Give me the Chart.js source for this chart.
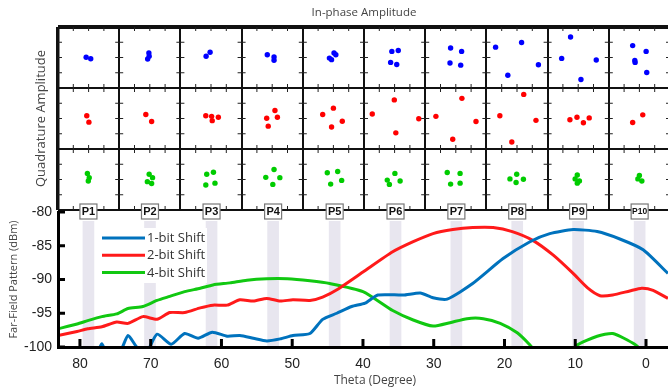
<!DOCTYPE html>
<html>
<head>
<meta charset="utf-8">
<script src="https://cdn.jsdelivr.net/npm/chart.js@4"></script>
<style>
  html, body { margin: 0; padding: 0; background: #fff; overflow: hidden; }
  #wrap { position: relative; width: 668px; height: 392px; overflow: hidden; }
  #wrap canvas { position: absolute; left: 0; top: 0; }
</style>
</head>
<body>
<div id="wrap">
  <canvas id="constChart" width="700" height="214"></canvas>
  <canvas id="patternChart" width="700" height="392"></canvas>
</div>
<script>
// ---- constellation grid (top) ----
// I/Q cluster centres per cell, normalised to [-1, 1] inside each cell
const cellLabels = ['P1', 'P2', 'P3', 'P4', 'P5', 'P6', 'P7', 'P8', 'P9', 'P10'];
const rowNames = ['1-bit', '2-bit', '4-bit'];

const iq1bit = [
  [[-0.08, 0.01], [0.07, -0.04]],
  [[-0.03, 0.15], [-0.07, -0.05], [-0.02, 0.04]],
  [[-0.03, 0.17], [-0.16, 0.04]],
  [[-0.16, 0.09], [0.06, 0.02], [0.06, -0.09]],
  [[-0.13, -0.02], [-0.06, -0.07], [0.02, 0.15], [0.08, 0.09]],
  [[-0.09, 0.2], [0.12, 0.23], [-0.13, -0.16], [0.07, -0.23]],
  [[-0.17, 0.31], [0.19, 0.2], [-0.19, -0.18], [0.16, -0.25]],
  [[-0.7, 0.34], [0.15, 0.49], [0.7, -0.24], [-0.3, -0.58]],
  [[-0.25, 0.67], [-0.54, -0.03], [0.59, -0.08], [0.09, -0.72]],
  [[-0.22, 0.39], [0.22, 0.2], [-0.15, -0.1], [-0.14, -0.16], [0.24, -0.49]]
];
const iq2bit = [
  [[-0.06, 0.09], [0.01, -0.12]],
  [[-0.13, 0.13], [0.06, -0.1]],
  [[-0.17, 0.09], [0.02, 0.07], [0.24, 0.04], [0.04, -0.07]],
  [[0.09, 0.26], [0.17, 0.04], [-0.18, 0.01], [-0.13, -0.25]],
  [[-0.35, 0.13], [0, 0.34], [0.29, -0.09], [-0.06, -0.28]],
  [[-0.73, 0.15], [-0.01, 0.61], [0.79, -0.01], [0.04, -0.47]],
  [[-0.65, 0.07], [0.2, 0.66], [0.66, -0.1], [-0.1, -0.68]],
  [[-0.56, 0.09], [0.22, 0.79], [0.62, -0.06], [-0.17, -0.77]],
  [[-0.27, -0.04], [-0.04, 0.04], [0.17, -0.14], [0.36, 0.02]],
  [[-0.22, -0.13], [0.11, 0.12]]
];
const iq4bit = [
  [[-0.04, 0.2], [0.02, 0.06], [-0.01, -0.05]],
  [[-0.02, 0.17], [0.09, 0.06], [-0.08, -0.07], [0.06, -0.13]],
  [[-0.14, 0.17], [0.08, 0.24], [-0.17, -0.18], [0.13, -0.12]],
  [[0.06, 0.33], [-0.21, 0.07], [0.25, 0.06], [0.02, -0.16]],
  [[-0.2, 0.22], [0.14, 0.26], [0.27, -0.03], [-0.09, -0.15]],
  [[0.01, 0.2], [-0.24, -0.02], [-0.17, -0.16], [0.18, -0.05]],
  [[-0.28, 0.23], [0.14, 0.2], [-0.17, -0.15], [0.14, -0.12]],
  [[-0.01, 0.17], [-0.23, 0.02], [-0.03, -0.1], [0.21, 0.01]],
  [[-0.03, 0.15], [-0.1, 0.02], [0.04, -0.05], [-0.03, -0.12]],
  [[0, 0.13], [-0.05, 0.02], [0.08, -0.05]]
];
const iqRows = [iq1bit, iq2bit, iq4bit];
const cellEdges = [0, 1, 2, 3, 4, 5, 6, 7, 8, 9, 10];
const rowEdges = [0, 1, 2, 3];
const cellTickFractions = [0.25, 0.5, 0.75];

// ---- far-field pattern (bottom) ----
const thetaTicks = [80, 70, 60, 50, 40, 30, 20, 10, 0];
const powerTicks = [-100, -95, -90, -85, -80];
const seriesNames = ['1-bit Shift', '2-bit Shift', '4-bit Shift'];

const theta1 = [83.3, 77.6, 76.9, 76.3, 74.4, 73.2, 71.9, 70.6, 69.1, 67.1, 65.2, 63.3, 61.3, 59.2, 57.4, 55.5, 53.6, 51.7, 49.9, 47.5, 45.7, 43.7, 41.6, 39.7, 37.9, 34.3, 31.9, 30.1, 28.1, 24.5, 20.2, 16.4, 13.6, 10.3, 6.9, 3.7, 0.4, -3.1];
const power1 = [-103, -100.8, -99.5, -100.8, -100.8, -98.3, -100.1, -100.8, -98.1, -99.6, -98.0, -98.7, -97.8, -98.4, -98.3, -98.7, -99.1, -98.8, -98.3, -98.0, -95.9, -95.0, -94.0, -93.5, -92.3, -92.3, -92.0, -92.7, -92.9, -90.6, -86.9, -84.4, -83.2, -82.6, -82.9, -84.0, -85.6, -89.1];

const theta2 = [83.1, 80.4, 78.9, 76.9, 74.8, 73.2, 71.1, 69.1, 67.3, 65.2, 63.0, 61.2, 59.2, 57.4, 55.5, 53.6, 51.7, 49.9, 47.5, 45.7, 43.5, 40.0, 35.8, 32.9, 30.1, 27.3, 24.5, 21.6, 18.9, 16.0, 13.1, 10.3, 8.3, 6.5, 4.7, 2.3, 0.6, -1.0, -3.1];
const power2 = [-98.3, -97.7, -97.3, -97.0, -96.3, -96.5, -95.5, -95.9, -94.9, -94.9, -94.2, -93.8, -93.8, -93.0, -93.2, -92.8, -93.2, -93.0, -93.1, -92.6, -91.4, -88.9, -85.9, -84.4, -83.2, -82.6, -82.3, -82.3, -82.9, -84.2, -86.4, -89.1, -91.2, -92.4, -92.3, -91.7, -91.3, -91.6, -92.8];

const theta3 = [83.1, 80.4, 78.9, 76.9, 74.8, 73.2, 71.1, 69.1, 67.3, 65.2, 63.0, 61.2, 58.8, 56.4, 53.6, 50.7, 47.5, 44.7, 40.0, 35.8, 32.9, 30.1, 27.7, 25.3, 23.0, 20.6, 18.2, 16.4, 14.0, 12.0, 9.8, 6.9, 4.7, 1.6, -1.0];
const power3 = [-97.3, -96.6, -96.1, -95.5, -95.1, -94.3, -94.0, -93.1, -92.5, -91.8, -91.3, -90.8, -90.5, -90.1, -89.9, -89.9, -90.2, -90.6, -91.8, -94.6, -96.0, -96.9, -96.4, -95.8, -95.8, -96.5, -97.9, -99.7, -102.5, -102.5, -99.75, -98.4, -98.0, -99.6, -102];

// measurement angles P1..P10 (shaded strips)
const markerTheta = [78.8, 70.1, 61.4, 52.7, 44.0, 35.4, 26.8, 18.2, 9.6, 0.9];
const markerTop = -81.4;

const lineColors = ['#0072bd', '#ff1a1a', '#11c811'];
const dotColors = ['#0000ff', '#ff0000', '#00cc00'];

Chart.defaults.font.family = "'Open Sans', sans-serif";
Chart.defaults.animation = false;

const toPoints = (xs, ys) => xs.map((x, i) => ({ x: x, y: ys[i] }));

// small inward ticks on every cell box
const cellTicks = {
  id: 'cellTicks',
  afterDraw(chart) {
    const { ctx, scales: { x, y } } = chart;
    const len = 4;
    ctx.save();
    ctx.strokeStyle = '#222';
    ctx.lineWidth = 1;
    ctx.beginPath();
    for (let c = 0; c < cellEdges.length - 1; c++) {
      for (let r = 0; r < rowEdges.length - 1; r++) {
        const x0 = x.getPixelForValue(cellEdges[c]), x1 = x.getPixelForValue(cellEdges[c + 1]);
        const y0 = y.getPixelForValue(rowEdges[r + 1]), y1 = y.getPixelForValue(rowEdges[r]);
        cellTickFractions.forEach(f => {
          const xx = x0 + f * (x1 - x0), yy = y0 + f * (y1 - y0);
          ctx.moveTo(xx, y0); ctx.lineTo(xx, y0 + len);
          ctx.moveTo(xx, y1); ctx.lineTo(xx, y1 - len);
          ctx.moveTo(x0, yy); ctx.lineTo(x0 + len, yy);
          ctx.moveTo(x1, yy); ctx.lineTo(x1 - len, yy);
        });
      }
    }
    ctx.stroke();
    ctx.restore();
  }
};

new Chart(document.getElementById('constChart'), {
  type: 'scatter',
  data: {
    datasets: iqRows.map((rows, r) => ({
      label: rowNames[r],
      data: rows.flatMap((pts, c) => pts.map(([i, q]) => ({
        x: cellEdges[c] + 0.5 + i / 2,
        y: rowEdges[2 - r] + 0.5 + q / 2
      }))),
      backgroundColor: dotColors[r],
      borderWidth: 0,
      pointRadius: 2.7
    }))
  },
  options: {
    responsive: false,
    events: [],
    layout: { padding: { right: 30, bottom: 2 } },
    plugins: { legend: { display: false }, tooltip: { enabled: false } },
    scales: {
      x: {
        type: 'linear', position: 'top', min: 0, max: 10,
        afterBuildTicks: s => { s.ticks = cellEdges.map(v => ({ value: v })); },
        afterFit: s => { s.height = 27; },
        ticks: { display: false },
        border: { display: false },
        grid: {
          drawTicks: false, color: '#111',
          lineWidth: ctx => (ctx.tick && ctx.tick.value === 0 ? 3.5 : 2)
        },
        title: {
          display: true, text: 'In-phase Amplitude', color: '#444',
          font: { size: 11.5 }, padding: { top: 6, bottom: 0 }
        }
      },
      y: {
        type: 'linear', min: 0, max: 3,
        afterBuildTicks: s => { s.ticks = rowEdges.map(v => ({ value: v })); },
        afterFit: s => { s.width = 58; },
        ticks: { display: false },
        border: { display: false },
        grid: {
          drawTicks: false, color: '#111',
          lineWidth: ctx => (ctx.tick && ctx.tick.value === 3 ? 4 : 2)
        },
        title: {
          display: true, text: 'Quadrature Amplitude', color: '#444',
          font: { size: 13 }, padding: { top: 33, bottom: 0 }
        }
      }
    }
  },
  plugins: [cellTicks]
});

// inward tick marks, P boxes and legend for the pattern plot
const patternDecor = {
  id: 'patternDecor',
  afterDatasetsDraw(chart) {
    const { ctx, chartArea } = chart;
    // legend
    const lx = chartArea.left + 40, ly = chartArea.top + 16;
    ctx.save();
    ctx.fillStyle = '#fff';
    ctx.fillRect(lx, ly, 109, 55);
    ctx.font = "13px 'Open Sans'";
    ctx.textBaseline = 'middle';
    chart.data.datasets.filter(d => d.type !== 'bar').forEach((d, i) => {
      const yy = ly + 10 + i * 17.2;
      ctx.strokeStyle = d.borderColor;
      ctx.lineWidth = 3;
      ctx.beginPath();
      ctx.moveTo(lx + 4, yy); ctx.lineTo(lx + 47, yy);
      ctx.stroke();
      ctx.fillStyle = '#333';
      ctx.fillText(d.label, lx + 49, yy + 0.5);
    });
    ctx.restore();
  },
  afterDraw(chart) {
    const { ctx, chartArea, scales: { x, y } } = chart;
    ctx.save();
    ctx.strokeStyle = '#000';
    ctx.lineWidth = 3;
    ctx.beginPath();
    thetaTicks.forEach(v => {
      const px = x.getPixelForValue(v);
      ctx.moveTo(px, chartArea.bottom); ctx.lineTo(px, chartArea.bottom - 8);
    });
    powerTicks.forEach(v => {
      const py = y.getPixelForValue(v);
      ctx.moveTo(chartArea.left, py); ctx.lineTo(chartArea.left + 7, py);
    });
    ctx.stroke();
    // P labels
    markerTheta.forEach((t, i) => {
      const px = x.getPixelForValue(t);
      const py = chartArea.top - 0.5;
      ctx.fillStyle = '#fff';
      ctx.strokeStyle = '#777';
      ctx.lineWidth = 1.2;
      ctx.fillRect(px - 8.5, py - 7.5, 17, 15);
      ctx.strokeRect(px - 8.5, py - 7.5, 17, 15);
      ctx.fillStyle = '#111';
      ctx.font = (cellLabels[i].length > 2 ? 'bold 8.5px' : 'bold 11px') + " 'Liberation Sans'";
      ctx.textAlign = 'center';
      ctx.textBaseline = 'middle';
      ctx.fillText(cellLabels[i], px, py + 0.5);
    });
    ctx.restore();
  }
};

const seriesTheta = [theta1, theta2, theta3];
const seriesPower = [power1, power2, power3];

new Chart(document.getElementById('patternChart'), {
  type: 'line',
  data: {
    datasets: seriesNames.map((name, i) => ({
      label: name,
      data: toPoints(seriesTheta[i], seriesPower[i]),
      borderColor: lineColors[i],
      borderWidth: 3,
      pointRadius: 0,
      tension: 0.2,
      fill: false,
      order: i
    })).concat([{
      type: 'bar',
      label: 'measured angles',
      data: markerTheta.map(t => ({ x: t, y: [-100, markerTop] })),
      backgroundColor: '#e8e6ef',
      barThickness: 11,
      grouped: false,
      order: 10
    }])
  },
  options: {
    responsive: false,
    events: [],
    layout: { padding: { top: 212, right: 8 } },
    plugins: { legend: { display: false }, tooltip: { enabled: false } },
    scales: {
      x: {
        type: 'linear', reverse: true, min: -6.5, max: 83.1, offset: false,
        afterBuildTicks: s => { s.ticks = thetaTicks.map(v => ({ value: v })); },
        afterFit: s => { s.height = 45; },
        grid: { display: false, drawTicks: false },
        border: { display: true, color: '#000', width: 3, z: 1 },
        ticks: {
          color: '#222', padding: 9, maxRotation: 0, autoSkip: false,
          font: { family: "'Liberation Sans', Arial", size: 14 }
        },
        title: {
          display: true, text: 'Theta (Degree)', color: '#444',
          font: { size: 12 }, padding: { top: 0, bottom: 4 }
        }
      },
      y: {
        type: 'linear', min: -100, max: -80,
        afterBuildTicks: s => { s.ticks = powerTicks.map(v => ({ value: v })); },
        afterFit: s => { s.width = 58; },
        grid: { display: false, drawTicks: false },
        border: { display: true, color: '#000', width: 3, z: 1 },
        ticks: {
          color: '#222', padding: 6,
          font: { family: "'Liberation Sans', Arial", size: 14 }
        },
        title: {
          display: true, text: 'Far-Field Pattern (dBm)', color: '#444',
          font: { size: 11 }, padding: { top: 7.5, bottom: 0 }
        }
      }
    }
  },
  plugins: [patternDecor]
});
</script>
</body>
</html>
